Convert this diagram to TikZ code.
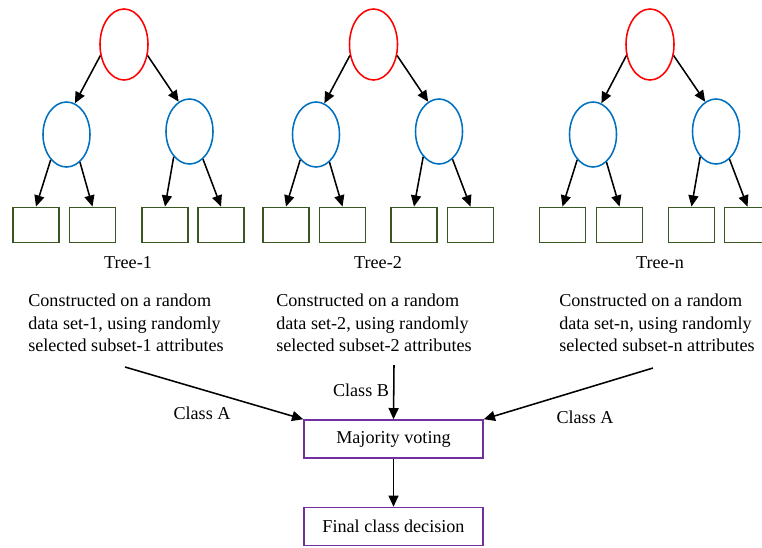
\documentclass[tikz,border=0pt]{standalone}
\usepackage{fontspec}
\setmainfont{Liberation Serif}
\usepackage{xcolor}
\usetikzlibrary{arrows.meta, shapes.geometric}

\definecolor{nodeblue}{RGB}{0,112,192}
\definecolor{leafgreen}{RGB}{56,87,35}
\definecolor{votepurple}{RGB}{112,48,160}
\newcommand{\diagfont}{\fontsize{12.9pt}{16pt}\selectfont}

\begin{document}
\begin{tikzpicture}[x=0.025cm, y=-0.025cm,
  rootnode/.style={draw=red, ellipse, line width=1.1pt, minimum width=1.2cm,
                   minimum height=1.775cm, inner sep=0pt},
  inner/.style={draw=nodeblue, ellipse, line width=1.1pt, minimum width=1.175cm,
                minimum height=1.625cm, inner sep=0pt},
  leafbox/.style={draw=leafgreen, line width=1.3pt, minimum width=1.15cm,
                  minimum height=0.875cm, inner sep=0pt},
  vote/.style={draw=votepurple, line width=1.1pt, minimum width=4.475cm,
               minimum height=0.95cm, font=\diagfont},
  arrow/.style={-{Triangle[length=2.8mm, width=2.5mm]}, line width=1.1pt},
  desc/.style={font=\diagfont, align=left, anchor=west, inner sep=0pt},
  cls/.style={font=\diagfont, inner sep=0pt}
]
  \useasboundingbox (0,0) rectangle (762,547);

  % Tree-1
  \node[rootnode] (T1)   at (124,44.5)   {};
  \node[inner]    (T1L)  at (66.5,134.5) {};
  \node[inner]    (T1R)  at (189.5,131.5) {};
  \node[leafbox]  (T1LL) at (36,225)     {};
  \node[leafbox]  (T1LR) at (92.5,225)   {};
  \node[leafbox]  (T1RL) at (165,225)    {};
  \node[leafbox]  (T1RR) at (221,225)    {};
  \draw[arrow] (T1.205) -- (T1L.75);
  \draw[arrow] (T1.335) -- (T1R.110);
  \draw[arrow] (T1L.238) -- (T1LL.north);
  \draw[arrow] (T1L.296) -- (T1LR.north);
  \draw[arrow] (T1R.238) -- (T1RL.north);
  \draw[arrow] (T1R.296) -- (T1RR.north);

  % Tree-2
  \node[rootnode] (T2)   at (373.5,44.5) {};
  \node[inner]    (T2L)  at (316,134.5)  {};
  \node[inner]    (T2R)  at (439,131.5)  {};
  \node[leafbox]  (T2LL) at (286,225)    {};
  \node[leafbox]  (T2LR) at (342.5,225)  {};
  \node[leafbox]  (T2RL) at (414,225)    {};
  \node[leafbox]  (T2RR) at (470.5,225)  {};
  \draw[arrow] (T2.205) -- (T2L.75);
  \draw[arrow] (T2.335) -- (T2R.110);
  \draw[arrow] (T2L.238) -- (T2LL.north);
  \draw[arrow] (T2L.296) -- (T2LR.north);
  \draw[arrow] (T2R.238) -- (T2RL.north);
  \draw[arrow] (T2R.296) -- (T2RR.north);

  % Tree-n
  \node[rootnode] (Tn)   at (650,44.5)   {};
  \node[inner]    (TnL)  at (593,134.5)  {};
  \node[inner]    (TnR)  at (716,131.5)  {};
  \node[leafbox]  (TnLL) at (562.5,225)  {};
  \node[leafbox]  (TnLR) at (619.5,225)  {};
  \node[leafbox]  (TnRL) at (691.5,225)  {};
  \node[leafbox]  (TnRR) at (747.5,225)  {};
  \draw[arrow] (Tn.205) -- (TnL.75);
  \draw[arrow] (Tn.335) -- (TnR.110);
  \draw[arrow] (TnL.238) -- (TnLL.north);
  \draw[arrow] (TnL.296) -- (TnLR.north);
  \draw[arrow] (TnR.238) -- (TnRL.north);
  \draw[arrow] (TnR.296) -- (TnRR.north);

  \node[cls] (N1) at (128,263) {Tree-1};
  \node[cls] (N2) at (378,263) {Tree-2};
  \node[cls] (Nn) at (660,263) {Tree-n};

  \node[desc] (D1) at (28,323)  {Constructed on a random\\data set-1, using randomly\\selected subset-1 attributes};
  \node[desc] (D2) at (276,323) {Constructed on a random\\data set-2, using randomly\\selected subset-2 attributes};
  \node[desc] (Dn) at (559,323) {Constructed on a random\\data set-n, using randomly\\selected subset-n attributes};

  \node[vote] (MV) at (393.5,439)   {Majority voting};
  \node[vote] (FC) at (393.5,526.5) {Final class decision};

  \coordinate (S1) at (125,367);
  \coordinate (S2) at (394,365);
  \coordinate (Sn) at (653,368);
  \draw[arrow] (S1) -- (MV.north west);
  \draw[arrow] (S2) -- (MV.north);
  \draw[arrow] (Sn) -- (MV.north east);
  \draw[arrow] (MV) -- (FC);

  \node[cls] (C1) at (202,413) {Class A};
  \node[cls] (C2) at (361,390) {Class B};
  \node[cls] (Cn) at (585,417) {Class A};
\end{tikzpicture}
\end{document}
